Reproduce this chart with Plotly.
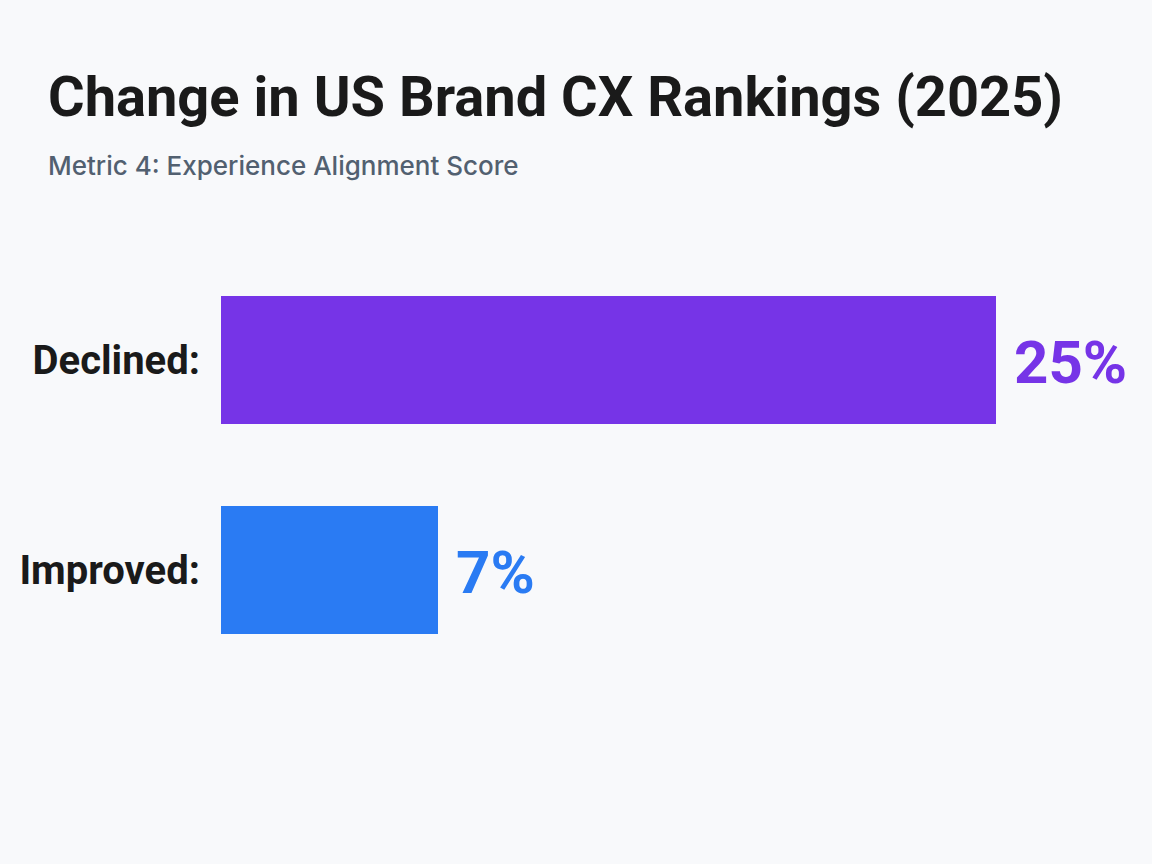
import plotly.graph_objects as go

categories = ["Declined", "Improved"]
values = [25, 7]
tick_labels = ["Declined:", "Improved:"]
value_labels = ["25%", "7%"]
colors = ["#7634E7", "#2A7BF3"]

W, H = 1152, 864
ML, MR, MT, MB = 221, 63, 255, 189
plot_w = W - ML - MR
plot_h = H - MT - MB
XMAX = 28
FONT = "Roboto, sans-serif"

fig = go.Figure()
fig.add_trace(go.Bar(
    x=values, y=categories, orientation="h",
    marker=dict(color=colors, line=dict(width=0)),
    hoverinfo="skip", showlegend=False,
))

for cat, v, lab, c in zip(categories, values, value_labels, colors):
    fig.add_annotation(
        x=v, y=cat, text=lab, showarrow=False, xanchor="left", yanchor="middle",
        xshift=16, yshift=-2,
        font=dict(family=FONT, size=60, color=c, weight="bold"),
    )

title_x = (46 - ML) / plot_w
fig.add_annotation(
    xref="paper", yref="paper", x=title_x, y=1 + (MT - 97) / plot_h,
    text="Change in US Brand CX Rankings (2025)", showarrow=False,
    xanchor="left", yanchor="middle",
    font=dict(family=FONT, size=56, color="#1A1A1A", weight="bold"),
)
fig.add_annotation(
    xref="paper", yref="paper", x=title_x, y=1 + (MT - 165) / plot_h,
    text="Metric 4: Experience Alignment Score", showarrow=False,
    xanchor="left", yanchor="middle",
    font=dict(family="Inter, sans-serif", size=26, color="#526070", weight=500),
)

fig.update_layout(
    width=W, height=H,
    margin=dict(l=ML, r=MR, t=MT, b=MB, pad=0, autoexpand=False),
    paper_bgcolor="#F8F9FB", plot_bgcolor="#F8F9FB",
    bargap=0.39,
    xaxis=dict(range=[0, XMAX], visible=False, showgrid=False, zeroline=False, automargin=False),
    yaxis=dict(
        autorange="reversed", tickmode="array", tickvals=categories, ticktext=tick_labels,
        showgrid=False, zeroline=False, showline=False, ticks="", automargin=False,
        ticklabelstandoff=20,
        tickfont=dict(family=FONT, size=40, color="#1A1A1A", weight="bold"),
    ),
)

fig.write_html("out.html")
